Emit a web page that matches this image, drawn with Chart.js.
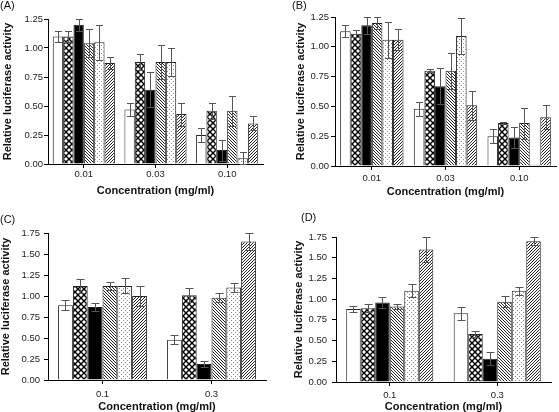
<!DOCTYPE html>
<html><head><meta charset="utf-8">
<script src="https://cdn.jsdelivr.net/npm/chart.js@4.4.1/dist/chart.umd.min.js"></script>
<style>
html,body{margin:0;padding:0;background:#fff;}
#wrap{position:relative;width:559px;height:412px;overflow:hidden;background:#fff;}
canvas{position:absolute;}
.pl{position:absolute;font:11px "Liberation Sans",Arial,sans-serif;color:#111;line-height:11px;}
</style></head><body>
<div id="wrap">
<canvas id="cA" width="280" height="205" style="left:0;top:0"></canvas>
<canvas id="cB" width="279" height="205" style="left:280px;top:0"></canvas>
<canvas id="cC" width="280" height="207" style="left:0;top:205px"></canvas>
<canvas id="cD" width="279" height="207" style="left:280px;top:205px"></canvas>
<div class="pl" style="left:0;top:0">(A)</div>
<div class="pl" style="left:292px;top:0">(B)</div>
<div class="pl" style="left:0;top:214px">(C)</div>
<div class="pl" style="left:301px;top:212px">(D)</div>
</div>
<script>
// ---- categories ----
const catsA = ['0.01', '0.03', '0.10'];
const catsB = ['0.01', '0.03', '0.10'];
const catsC = ['0.1', '0.3'];
const catsD = ['0.1', '0.3'];

// ---- tick labels ----
const yTicksAB = [0, 0.25, 0.5, 0.75, 1.0, 1.25];
const yTicksCD = [0, 0.25, 0.5, 0.75, 1.0, 1.25, 1.5, 1.75];

// ---- series values (one row per bar series, one value per category) ----
const meansA = [
  [1.10, 0.47, 0.25],
  [1.10, 0.88, 0.46],
  [1.20, 0.64, 0.12],
  [1.04, 0.88, 0.46],
  [1.05, 0.88, 0.05],
  [0.87, 0.43, 0.35]
];
const errsA = [
  [0.05, 0.06, 0.06],
  [0.05, 0.07, 0.07],
  [0.05, 0.15, 0.09],
  [0.12, 0.15, 0.13],
  [0.15, 0.12, 0.05],
  [0.05, 0.10, 0.06]
];
const meansB = [
  [1.13, 0.48, 0.25],
  [1.11, 0.80, 0.36],
  [1.18, 0.67, 0.24],
  [1.20, 0.80, 0.36],
  [1.06, 1.09, 0.01],
  [1.06, 0.51, 0.41]
];
const errsB = [
  [0.05, 0.06, 0.06],
  [0.03, 0.015, 0.01],
  [0.07, 0.15, 0.09],
  [0.05, 0.15, 0.13],
  [0.15, 0.15, 0],
  [0.09, 0.12, 0.10]
];
const meansC = [
  [0.89, 0.48],
  [1.12, 1.01],
  [0.87, 0.19],
  [1.12, 0.98],
  [1.12, 1.10],
  [1.00, 1.65]
];
const errsC = [
  [0.06, 0.05],
  [0.08, 0.08],
  [0.05, 0.04],
  [0.05, 0.05],
  [0.09, 0.05],
  [0.12, 0.10]
];
const meansD = [
  [0.88, 0.83],
  [0.89, 0.58],
  [0.96, 0.28],
  [0.91, 0.97],
  [1.10, 1.10],
  [1.60, 1.70]
];
const errsD = [
  [0.04, 0.08],
  [0.05, 0.04],
  [0.07, 0.08],
  [0.03, 0.07],
  [0.08, 0.05],
  [0.15, 0.05]
];

// ---- fills ----
function tile(w, h, draw) {
  const c = document.createElement('canvas');
  c.width = w; c.height = h;
  const g = c.getContext('2d');
  g.fillStyle = '#fff'; g.fillRect(0, 0, w, h);
  draw(g, w, h);
  return g.createPattern(c, 'repeat');
}
function diagTile(s, dir, lw, col) {
  return tile(s, s, (g) => {
    g.strokeStyle = col; g.lineWidth = lw;
    for (const o of [-s, 0, s]) {
      g.beginPath();
      if (dir > 0) { g.moveTo(o - 1, -1); g.lineTo(o + s + 1, s + 1); }
      else { g.moveTo(o - 1, s + 1); g.lineTo(o + s + 1, -1); }
      g.stroke();
    }
  });
}
const fillOpen = '#ffffff';
const fillCross = tile(6, 6, (g, s) => {
  g.strokeStyle = '#000'; g.lineWidth = 1.4;
  for (const o of [-s, 0, s]) {
    g.beginPath(); g.moveTo(o - 1, -1); g.lineTo(o + s + 1, s + 1); g.stroke();
    g.beginPath(); g.moveTo(o - 1, s + 1); g.lineTo(o + s + 1, -1); g.stroke();
  }
});
const fillSolid = '#000000';
const fillBack = diagTile(3, 1, 1, '#222');
const fillDots = tile(4, 4, (g) => {
  g.fillStyle = '#8a8a8a';
  g.fillRect(1, 1, 1, 1); g.fillRect(3, 3, 1, 1);
});
const fillFwd = diagTile(3, -1, 1, '#222');
const fills = [fillOpen, fillCross, fillSolid, fillBack, fillDots, fillFwd];

// ---- error bars ----
const errorBars = {
  id: 'errorBars',
  afterDatasetsDraw(chart, args, opts) {
    const ctx = chart.ctx, ys = chart.scales.y;
    ctx.save();
    ctx.strokeStyle = '#555'; ctx.lineWidth = 1;
    chart.data.datasets.forEach((ds, di) => {
      const meta = chart.getDatasetMeta(di);
      meta.data.forEach((bar, i) => {
        const v = ds.data[i], e = ds.errors[i];
        if (!e) return;
        const y1 = Math.round(ys.getPixelForValue(v + e)) + 0.5;
        const y2 = Math.round(ys.getPixelForValue(Math.max(0, v - e))) + 0.5;
        const x = Math.round(bar.x) + 0.5, hw = opts.cap / 2;
        ctx.beginPath();
        ctx.moveTo(x, y1); ctx.lineTo(x, y2);
        ctx.moveTo(x - hw, y1); ctx.lineTo(x + hw, y1);
        ctx.moveTo(x - hw, y2); ctx.lineTo(x + hw, y2);
        ctx.stroke();
      });
    });
    ctx.restore();
  }
};

const FONT = '"Liberation Sans", Arial, Helvetica, sans-serif';

function makePanel(p) {
  const ctx = document.getElementById(p.id).getContext('2d');
  return new Chart(ctx, {
    type: 'bar',
    data: {
      labels: p.cats,
      datasets: p.means.map((m, si) => ({
        data: m,
        errors: p.errs[si],
        backgroundColor: fills[si],
        borderColor: '#222',
        borderWidth: 1,
        categoryPercentage: p.catPct,
        barPercentage: 1
      }))
    },
    options: {
      responsive: false,
      animation: false,
      devicePixelRatio: 1,
      layout: { padding: { top: p.T, right: p.w - p.R, left: 0, bottom: 0 } },
      plugins: {
        legend: { display: false },
        tooltip: { enabled: false },
        errorBars: { cap: p.cap }
      },
      scales: {
        x: {
          offset: true,
          grid: { offset: false, drawOnChartArea: false, drawTicks: true, tickLength: 4, color: '#000' },
          border: { display: true, color: '#000', width: 1 },
          ticks: { font: { family: FONT, size: 9.5 }, color: '#222', padding: p.xPad, maxRotation: 0 },
          title: { display: true, text: 'Concentration (mg/ml)', color: '#111',
                   font: { family: FONT, size: 11, weight: 'bold', lineHeight: 1 },
                   padding: { top: 0, bottom: p.xTitlePad } },
          afterFit: (s) => { s.height = p.h - p.B; }
        },
        y: {
          min: 0, max: p.max,
          grid: { drawOnChartArea: false, drawTicks: true, tickLength: 4, color: '#000' },
          border: { display: true, color: '#000', width: 1 },
          ticks: { font: { family: FONT, size: 9.5 }, color: '#222', padding: p.yPad,
                   callback: (v) => Number(v).toFixed(2) },
          afterBuildTicks: (s) => { s.ticks = p.ticks.map(v => ({ value: v })); },
          title: { display: true, text: 'Relative luciferase activity', color: '#111',
                   font: { family: FONT, size: 11, weight: 'bold', lineHeight: 1 },
                   padding: { top: p.yTitlePad, bottom: 0 } },
          afterFit: (s) => { s.width = p.L; }
        }
      }
    },
    plugins: [errorBars]
  });
}

makePanel({ id: 'cA', w: 280, h: 205, L: 48, R: 263, T: 19, B: 164, cats: catsA, means: meansA, errs: errsA,
  max: 1.25, ticks: yTicksAB, catPct: 0.867, cap: 7, xPad: 1, xTitlePad: 8.5, yPad: 1, yTitlePad: 2.5 });
makePanel({ id: 'cB', w: 279, h: 205, L: 55, R: 276, T: 17, B: 166, cats: catsB, means: meansB, errs: errsB,
  max: 1.25, ticks: yTicksAB, catPct: 0.86, cap: 7, xPad: 3, xTitlePad: 7.5, yPad: 2, yTitlePad: 15.5 });
makePanel({ id: 'cC', w: 280, h: 207, L: 48, R: 266, T: 28, B: 175, cats: catsC, means: meansC, errs: errsC,
  max: 1.75, ticks: yTicksCD, catPct: 0.815, cap: 8, xPad: 4.5, xTitlePad: 0, yPad: 4, yTitlePad: 0 });
makePanel({ id: 'cD', w: 279, h: 207, L: 56, R: 271, T: 32, B: 177, cats: catsD, means: meansD, errs: errsD,
  max: 1.75, ticks: yTicksCD, catPct: 0.81, cap: 8, xPad: 3.5, xTitlePad: 0, yPad: 5, yTitlePad: 13.5 });
</script>
</body></html>
